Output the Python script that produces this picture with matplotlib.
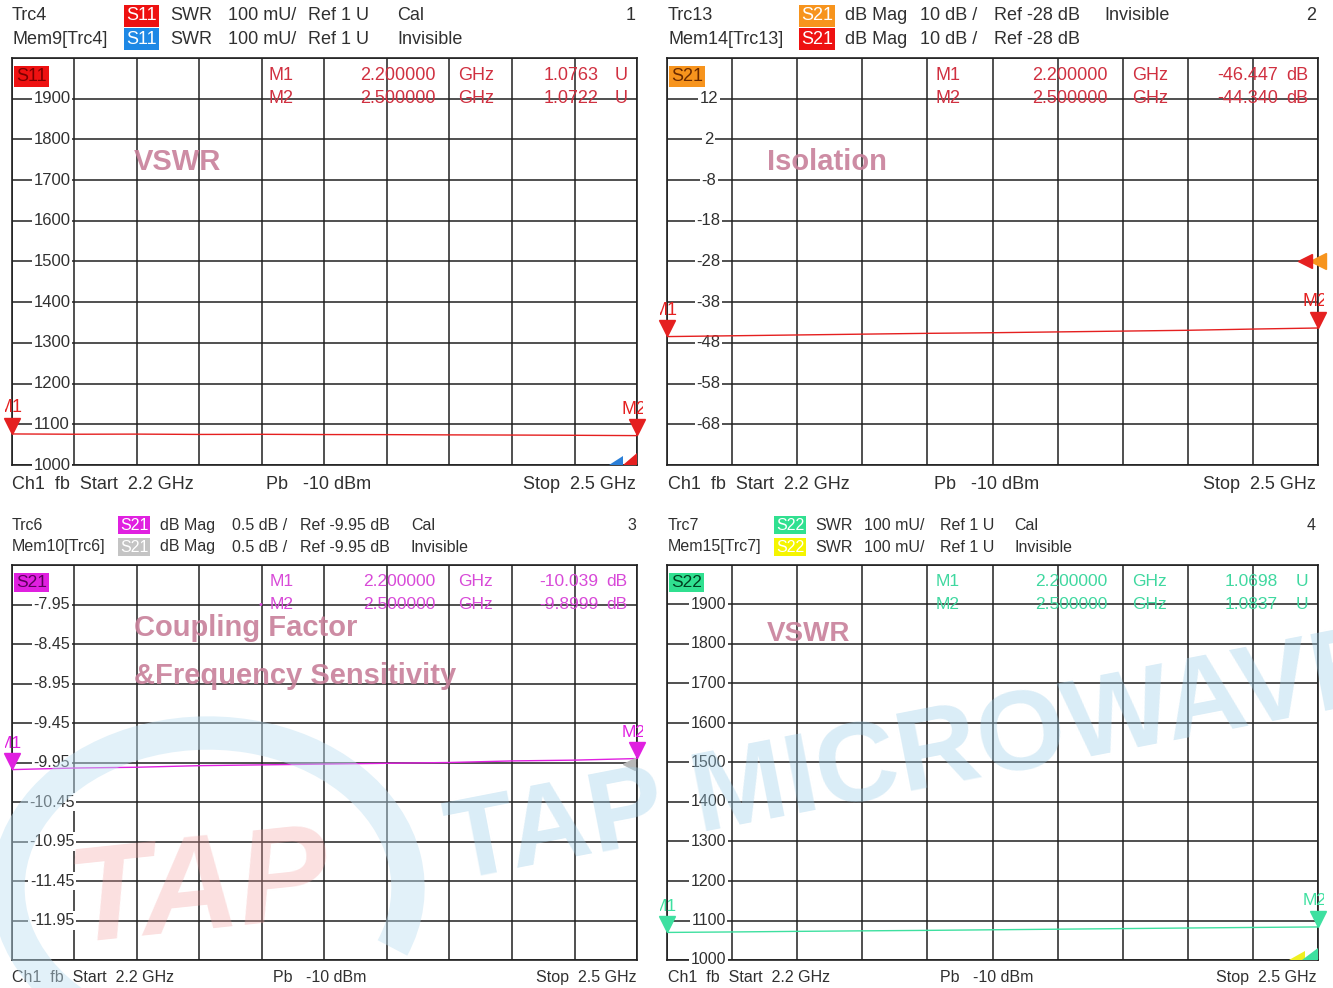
import numpy as np
import matplotlib
matplotlib.use("Agg")
import matplotlib.pyplot as plt
import matplotlib.transforms as mtrans
from matplotlib.patches import Arc, Polygon

plt.rcParams['font.family'] = ['Liberation Sans', 'DejaVu Sans']

W, H = 1333, 988

# sweep, GHz
freqs = [2.20, 2.23, 2.26, 2.29, 2.32, 2.35, 2.38, 2.41, 2.44, 2.47, 2.50]

# traces (display units of each channel)
s11_vswr = [1076.3, 1075.6, 1075.9, 1075.1, 1075.4, 1074.8, 1074.6, 1074.0, 1073.6, 1073.0, 1072.2]
s21_iso = [-46.45, -46.25, -46.05, -45.85, -45.65, -45.50, -45.30, -45.10, -44.90, -44.60, -44.34]
s21_cpl = [-10.04, -10.02, -10.01, -9.99, -9.98, -9.97, -9.96, -9.95, -9.93, -9.92, -9.90]
s22_vswr = [1069.8, 1071.0, 1072.5, 1073.8, 1075.0, 1076.5, 1078.0, 1079.5, 1081.0, 1082.4, 1083.7]

# y tick labels per panel
yl_1 = ["1900", "1800", "1700", "1600", "1500", "1400", "1300", "1200", "1100", "1000"]
yl_2 = ["12", "2", "-8", "-18", "-28", "-38", "-48", "-58", "-68"]
yl_3 = ["-7.95", "-8.45", "-8.95", "-9.45", "-9.95", "-10.45", "-10.95", "-11.45", "-11.95"]
yl_4 = yl_1

# marker readouts
mk_1 = [("M1", "2.200000", "GHz", "1.0763", "U"), ("M2", "2.500000", "GHz", "1.0722", "U")]
mk_2 = [("M1", "2.200000", "GHz", "-46.447", "dB"), ("M2", "2.500000", "GHz", "-44.340", "dB")]
mk_3 = [("M1", "2.200000", "GHz", "-10.039", "dB"), ("M2", "2.500000", "GHz", "-9.8999", "dB")]
mk_4 = [("M1", "2.200000", "GHz", "1.0698", "U"), ("M2", "2.500000", "GHz", "1.0837", "U")]

fig = plt.figure(figsize=(W / 100, H / 100), dpi=100)
fig.patch.set_facecolor("white")


def px(x, y):
    return x / W, 1 - y / H


def ftext(x, y, s, size=13, color="#303030", ha="left", badge=None, **kw):
    bb = None
    if badge is not None:
        bb = dict(boxstyle="square,pad=0.12", fc=badge, ec="none")
    fig.text(*px(x, y), s, fontsize=size, color=color, ha=ha, va="center", bbox=bb, **kw)


def panel(rect, trace, ylo, yhi, ylabels, tcolor, txtcolor, badge_fc, badge_txt, name, markers, fsize):
    l, t, r, b = rect
    ax = fig.add_axes([l / W, 1 - b / H, (r - l) / W, (b - t) / H])
    ax.set_xlim(freqs[0], freqs[-1])
    ax.set_ylim(ylo, yhi)
    ax.set_xticks(np.linspace(freqs[0], freqs[-1], 11))
    ax.set_yticks(np.linspace(ylo, yhi, 11))
    ax.tick_params(length=0, labelbottom=False, labelleft=False)
    ax.grid(True, color="#202020", lw=1.1)
    for sp in ax.spines.values():
        sp.set_color("#202020")
        sp.set_linewidth(1.2)
    step = (yhi - ylo) / 10
    for i, lab in enumerate(ylabels):
        ax.text(0.064, yhi - step * (i + 1), lab, transform=ax.get_yaxis_transform(),
                ha="center", va="center", fontsize=fsize - 1, color="#303030",
                bbox=dict(boxstyle="square,pad=0.1", fc="white", ec="none"), zorder=3)
    ax.text(0.006, 0.955, name, transform=ax.transAxes, fontsize=fsize, color=badge_txt,
            va="center", bbox=dict(boxstyle="square,pad=0.12", fc=badge_fc, ec="none"), zorder=4)
    for j, row in enumerate(markers):
        yy = 0.958 - j * 0.057
        for s, xx, ha in zip(row, [0.431, 0.677, 0.714, 0.938, 0.985],
                             ["center", "right", "left", "right", "right"]):
            ax.text(xx, yy, s, transform=ax.transAxes, fontsize=fsize, color=txtcolor,
                    ha=ha, va="center", zorder=2)
    ax.plot(freqs, trace, color=tcolor, lw=1.0, zorder=5)
    up = mtrans.offset_copy(ax.transData, fig=fig, y=6, units="points")
    clipbox = mtrans.TransformedBbox(mtrans.Bbox([[-0.011, -0.1], [1.009, 1.0]]), ax.transAxes)
    for k, idx in enumerate([0, -1]):
        ax.plot(freqs[idx], trace[idx], marker="v", ms=11, color=tcolor, mec=tcolor,
                transform=up, clip_on=False, zorder=6)
        lab = mtrans.offset_copy(ax.transData, fig=fig, x=(-1.5 if k == 0 else -2.5), y=19, units="points")
        t = ax.text(freqs[idx], trace[idx], "M%d" % (k + 1), transform=lab, fontsize=fsize,
                    color=tcolor, ha="center", va="center", zorder=6)
        t.set_clip_box(clipbox)
        t.set_clip_on(True)
    return ax


def corner_tri(ax, x0, x1, h, color, z):
    ax.add_patch(Polygon([[x0, 0.0], [x1, 0.0], [x1, h]], closed=True, transform=ax.transAxes,
                         fc=color, ec="none", clip_on=False, zorder=z))


pink = "#c8809a"

# ---- panel 1: S11 VSWR
ax1 = panel((12, 58, 637, 465), s11_vswr, 1000, 2000, yl_1, "#e52020", "#d03040",
            "#ee1111", "#7a0000", "S11", mk_1, 13)
ax1.text(0.195, 0.745, "VSWR", transform=ax1.transAxes, fontsize=21, fontweight="bold",
         color=pink, va="center", alpha=0.9)
corner_tri(ax1, 0.955, 0.978, 0.022, "#2a7fd8", 5)
corner_tri(ax1, 0.978, 1.0, 0.03, "#e52020", 6)

# ---- panel 2: S21 isolation
ax2 = panel((667, 58, 1318, 465), s21_iso, -78, 22, yl_2, "#e52020", "#d03040",
            "#f7941d", "#6a2a00", "S21", mk_2, 13)
ax2.text(0.153, 0.745, "Isolation", transform=ax2.transAxes, fontsize=21, fontweight="bold",
         color=pink, va="center", alpha=0.9)
ax2.plot(freqs[-1], -28, marker="<", ms=11, color="#f7941d", clip_on=False, zorder=6)
ax2.plot(freqs[-1] - 0.006, -28, marker="<", ms=10, color="#e52020", clip_on=False, zorder=6)

# ---- panel 3: S21 coupling
ax3 = panel((12, 565, 637, 960), s21_cpl, -12.45, -7.45, yl_3, "#e020e0", "#d84ad8",
            "#e020e0", "#5a005a", "S21", mk_3, 12.5)
ax3.text(0.397, 0.899, "\u2022", transform=ax3.transAxes, fontsize=8, color="#d84ad8",
         ha="center", va="center")
ax3.text(0.195, 0.84, "Coupling Factor", transform=ax3.transAxes, fontsize=21, fontweight="bold",
         color=pink, va="center", alpha=0.9)
ax3.text(0.195, 0.72, "&Frequency Sensitivity", transform=ax3.transAxes, fontsize=21,
         fontweight="bold", color=pink, va="center", alpha=0.9)
ax3.plot(freqs[-1] - 0.004, -9.97, marker="<", ms=9, color="#b8b8b8", clip_on=False, zorder=5)

# ---- panel 4: S22 VSWR
ax4 = panel((667, 565, 1318, 960), s22_vswr, 1000, 2000, yl_4, "#3ee0a0", "#40d8a0",
            "#30e090", "#004020", "S22", mk_4, 12.5)
ax4.text(0.153, 0.825, "VSWR", transform=ax4.transAxes, fontsize=20, fontweight="bold",
         color=pink, va="center", alpha=0.9)
corner_tri(ax4, 0.955, 0.98, 0.022, "#f0f020", 5)
corner_tri(ax4, 0.975, 1.0, 0.03, "#3ee0a0", 6)

# ---- header / footer texts
# panel 1
ftext(12, 16, "Trc4"); ftext(12, 39, "Mem9[Trc4]")
ftext(126, 16, "S11", color="white", badge="#ee1111"); ftext(126, 39, "S11", color="white", badge="#1e88e5")
for y in (16, 39):
    ftext(170, y, "SWR"); ftext(228, y, "100 mU/"); ftext(308, y, "Ref 1 U")
ftext(397, 16, "Cal"); ftext(397, 39, "Invisible"); ftext(636, 16, "1", ha="right")
ftext(12, 484, "Ch1  fb  Start  2.2 GHz"); ftext(266, 484, "Pb   -10 dBm"); ftext(636, 484, "Stop  2.5 GHz", ha="right")
# panel 2
ftext(668, 16, "Trc13"); ftext(668, 39, "Mem14[Trc13]")
ftext(801, 16, "S21", color="white", badge="#f7941d"); ftext(801, 39, "S21", color="white", badge="#ee1111")
for y in (16, 39):
    ftext(845, y, "dB Mag"); ftext(920, y, "10 dB /"); ftext(994, y, "Ref -28 dB")
ftext(1104, 16, "Invisible"); ftext(1316, 16, "2", ha="right")
ftext(668, 484, "Ch1  fb  Start  2.2 GHz"); ftext(934, 484, "Pb   -10 dBm"); ftext(1316, 484, "Stop  2.5 GHz", ha="right")
# panel 3
s = 11.5
ftext(12, 525, "Trc6", size=s); ftext(12, 547, "Mem10[Trc6]", size=s)
ftext(120, 525, "S21", size=s, color="white", badge="#e020e0"); ftext(120, 547, "S21", size=s, color="white", badge="#c4c4c4")
for y in (525, 547):
    ftext(160, y, "dB Mag", size=s); ftext(232, y, "0.5 dB /", size=s); ftext(300, y, "Ref -9.95 dB", size=s)
ftext(411, 525, "Cal", size=s); ftext(411, 547, "Invisible", size=s); ftext(636, 525, "3", size=s, ha="right")
ftext(12, 977, "Ch1  fb  Start  2.2 GHz", size=s); ftext(273, 977, "Pb   -10 dBm", size=s); ftext(636, 977, "Stop  2.5 GHz", size=s, ha="right")
# panel 4
ftext(668, 525, "Trc7", size=s); ftext(668, 547, "Mem15[Trc7]", size=s)
ftext(776, 525, "S22", size=s, color="white", badge="#30e090"); ftext(776, 547, "S22", size=s, color="white", badge="#f5f500")
for y in (525, 547):
    ftext(815, y, "SWR", size=s); ftext(864, y, "100 mU/", size=s); ftext(940, y, "Ref 1 U", size=s)
ftext(1014, 525, "Cal", size=s); ftext(1014, 547, "Invisible", size=s); ftext(1316, 525, "4", size=s, ha="right")
ftext(668, 977, "Ch1  fb  Start  2.2 GHz", size=s); ftext(940, 977, "Pb   -10 dBm", size=s); ftext(1316, 977, "Stop  2.5 GHz", size=s, ha="right")

# ---- watermark
wm = fig.add_axes([0, 0, 1, 1], zorder=20)
wm.set_xlim(0, W); wm.set_ylim(H, 0); wm.axis("off"); wm.patch.set_alpha(0)
wm.add_patch(Arc((208, 888), 400, 310, theta1=120, theta2=378, lw=24, color="#bfe0f2", alpha=0.45))
wm.text(62, 942, "TAP", fontsize=98, fontweight="bold", fontstyle="italic", color="#f4a0a0",
        alpha=0.32, rotation=6)
wm.text(455, 880, "TAP MICROWAVE", fontsize=82, fontweight="bold", color="#9fd0ea",
        alpha=0.38, rotation=11, rotation_mode="anchor", clip_on=True)

fig.savefig("out.png", dpi=100)
